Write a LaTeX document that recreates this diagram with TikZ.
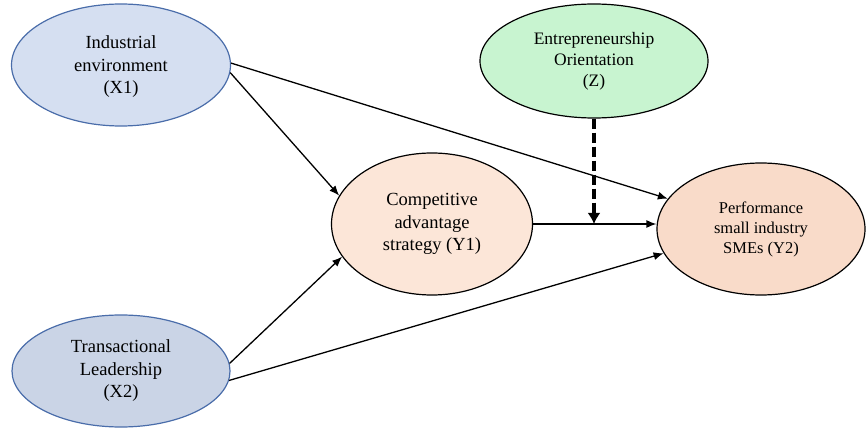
\documentclass[tikz,border=0pt]{standalone}
\usepackage{fontspec}
\setmainfont{Liberation Serif}
\usetikzlibrary{arrows.meta,shapes.geometric}
\definecolor{xonefill}{HTML}{D5DFF1}
\definecolor{xtwofill}{HTML}{CAD4E6}
\definecolor{xborder}{HTML}{4A6DAA}
\definecolor{zfill}{HTML}{C8F4D0}
\definecolor{yonefill}{HTML}{FCE6D8}
\definecolor{ytwofill}{HTML}{F9DBC9}
\tikzset{
  var/.style={ellipse, inner sep=0pt, align=center, font=\fontsize{18.5}{22.5}\selectfont, line width=1.2pt},
  path/.style={line width=1.3pt, -{Latex[length=10pt,width=8pt]}},
  mod/.style={line width=3.5pt, dash pattern=on 10pt off 4pt, -{Latex[length=11pt,width=13pt]}}
}
\begin{document}
\begin{tikzpicture}[x=1pt,y=-1pt]
\useasboundingbox (0,0) rectangle (867,430);
\node[var, draw=xborder, fill=xonefill, minimum width=219pt, minimum height=122pt] (X1) at (121,65) {\\[-6pt]Industrial\\environment\\(X1)};
\node[var, draw=xborder, fill=xtwofill, minimum width=218pt, minimum height=112pt] (X2) at (121,371) {Transactional\\Leadership\\(X2)};
\node[var, draw=black, fill=zfill, minimum width=228pt, minimum height=114pt, font=\fontsize{17.5}{21}\selectfont] (Z) at (594,61) {Entrepreneurship\\Orientation\\(Z)};
\node[var, draw=black, fill=yonefill, minimum width=201pt, minimum height=142pt] (Y1) at (432,224) {Competitive\\advantage\\strategy (Y1)};
\node[var, draw=black, fill=ytwofill, minimum width=208pt, minimum height=132pt, font=\fontsize{16.5}{20}\selectfont] (Y2) at (761,229) {Performance\\small industry\\SMEs (Y2)};
\coordinate (J) at (Y1.east -| Z.south);
\draw[path] (X1.-4) -- (Y1.163);
\draw[path] (X1.1) -- (Y2.162);
\draw[path] (X2.4) -- (Y1.200);
\draw[path] (X2.-5) -- (Y2.194);
\draw[path] (Y1.east) -- (Y1.east -| Y2.west);
\draw[mod] (Z.south) -- (J);
\end{tikzpicture}
\end{document}
